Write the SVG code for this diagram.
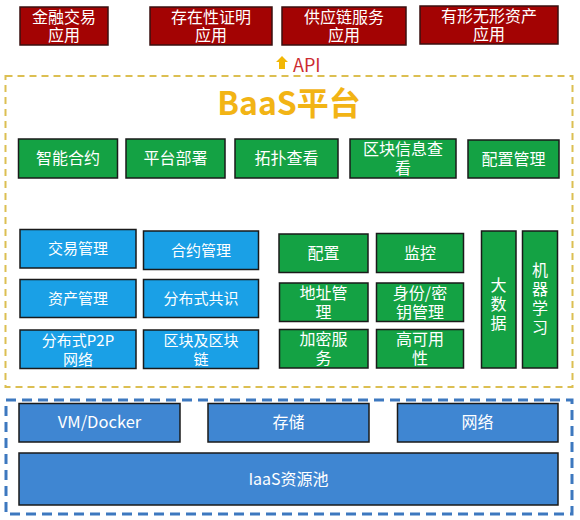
<svg xmlns="http://www.w3.org/2000/svg" width="580" height="520" viewBox="0 0 580 520">
<style>
  text { font-family: "Noto Sans CJK SC", "Noto Sans", sans-serif; fill: #ffffff; text-anchor: middle; }
  .red rect { fill: #a30303; stroke: #3a1010; stroke-width: 1.5; }
  .grn rect { fill: #14a244; stroke: #1a1a1a; stroke-width: 1.5; }
  .cyan rect { fill: #1aa0e6; stroke: #1a1a1a; stroke-width: 1.5; }
  .blu rect { fill: #3f86d2; stroke: #1a1a1a; stroke-width: 1.5; }
  .t16 { font-size: 16px; }
  .t15 { font-size: 15px; }
</style>
<rect width="580" height="520" fill="#ffffff"/>

<!-- frames -->
<rect x="5.5" y="76" width="567" height="311" fill="none" stroke="#dcbf52" stroke-width="2" stroke-dasharray="7 5"/>
<rect x="6" y="400" width="566" height="114" fill="none" stroke="#3d78bf" stroke-width="3" stroke-dasharray="10 6"/>

<!-- applications -->
<g id="app1" class="red"><rect x="20" y="7" width="88" height="38"/><text class="t16" x="64" y="23">金融交易<tspan x="64" dy="18">应用</tspan></text></g>
<g id="app2" class="red"><rect x="150" y="7" width="122" height="38"/><text class="t16" x="211" y="23">存在性证明<tspan x="211" dy="18">应用</tspan></text></g>
<g id="app3" class="red"><rect x="282" y="7" width="124" height="38"/><text class="t16" x="344" y="23">供应链服务<tspan x="344" dy="18">应用</tspan></text></g>
<g id="app4" class="red"><rect x="420" y="6" width="138" height="38"/><text class="t16" x="489" y="22">有形无形资产<tspan x="489" dy="18">应用</tspan></text></g>

<!-- API -->
<g id="connectors">
  <polygon points="282,56 288,62 285,62 285,69 279,69 279,62 276,62" fill="#f2b705"/>
</g>
<text x="293" y="72" style="font-size:18px;fill:#cc2a30;text-anchor:start">API</text>

<!-- BaaS title -->
<text x="289" y="115" style="font-size:32px;font-weight:bold;fill:#f2b415">BaaS平台</text>

<!-- top green row -->
<g id="g1" class="grn"><rect x="18.5" y="139" width="99" height="39"/><text class="t16" x="68" y="164">智能合约</text></g>
<g id="g2" class="grn"><rect x="126" y="139" width="99" height="39"/><text class="t16" x="175.5" y="164">平台部署</text></g>
<g id="g3" class="grn"><rect x="235" y="139" width="103" height="39"/><text class="t16" x="286.5" y="164">拓扑查看</text></g>
<g id="g4" class="grn"><rect x="350" y="139" width="106" height="39"/><text class="t16" x="403" y="155">区块信息查<tspan x="403" dy="19">看</tspan></text></g>
<g id="g5" class="grn"><rect x="468" y="140" width="91" height="38"/><text class="t16" x="513.5" y="165">配置管理</text></g>

<!-- left cyan block -->
<g id="c1" class="cyan"><rect x="20" y="229.5" width="116" height="38.5"/><text class="t15" x="78" y="254">交易管理</text></g>
<g id="c2" class="cyan"><rect x="143.5" y="231" width="115" height="38.5"/><text class="t15" x="201" y="256">合约管理</text></g>
<g id="c3" class="cyan"><rect x="20" y="279.5" width="116" height="38"/><text class="t15" x="78" y="304">资产管理</text></g>
<g id="c4" class="cyan"><rect x="143.5" y="279.5" width="115" height="38"/><text class="t15" x="201" y="304">分布式共识</text></g>
<g id="c5" class="cyan"><rect x="20" y="330" width="116" height="38.5"/><text class="t15" x="78" y="346">分布式P2P<tspan x="78" dy="19">网络</tspan></text></g>
<g id="c6" class="cyan"><rect x="143.5" y="330" width="115" height="38.5"/><text class="t15" x="201" y="346">区块及区块<tspan x="201" dy="19">链</tspan></text></g>

<!-- middle green block -->
<g id="m1" class="grn"><rect x="279" y="234" width="89" height="38.5"/><text class="t16" x="323.5" y="259">配置</text></g>
<g id="m2" class="grn"><rect x="376.5" y="233.5" width="87" height="39"/><text class="t16" x="420" y="259">监控</text></g>
<g id="m3" class="grn"><rect x="279.5" y="283" width="88.5" height="38.5"/><text class="t16" x="323.5" y="299">地址管<tspan x="323.5" dy="19">理</tspan></text></g>
<g id="m4" class="grn"><rect x="376.5" y="283" width="87" height="38.5"/><text class="t16" x="420" y="299">身份/密<tspan x="420" dy="19">钥管理</tspan></text></g>
<g id="m5" class="grn"><rect x="279.5" y="329.5" width="88.5" height="38.5"/><text class="t16" x="323.5" y="345">加密服<tspan x="323.5" dy="19">务</tspan></text></g>
<g id="m6" class="grn"><rect x="376.5" y="329.5" width="87" height="38.5"/><text class="t16" x="420" y="345">高可用<tspan x="420" dy="19">性</tspan></text></g>

<!-- right vertical green -->
<g id="v1" class="grn"><rect x="481.5" y="231" width="34.5" height="137"/><text class="t16" x="498.5" y="291">大<tspan x="498.5" dy="19">数</tspan><tspan x="498.5" dy="19">据</tspan></text></g>
<g id="v2" class="grn"><rect x="522.5" y="231" width="35" height="137"/><text class="t16" x="540" y="276">机<tspan x="540" dy="19">器</tspan><tspan x="540" dy="19">学</tspan><tspan x="540" dy="19">习</tspan></text></g>

<!-- IaaS -->
<g id="i1" class="blu"><rect x="19" y="403.5" width="161" height="38.5"/><text x="99.5" y="428" style="font-size:16.5px">VM/Docker</text></g>
<g id="i2" class="blu"><rect x="208" y="403.5" width="161" height="38.5"/><text class="t16" x="288.5" y="428">存储</text></g>
<g id="i3" class="blu"><rect x="397.5" y="403.5" width="160.5" height="38.5"/><text class="t16" x="477.5" y="428">网络</text></g>
<g id="i4" class="blu"><rect x="19" y="453" width="539" height="52"/><text class="t16" x="288.5" y="485">IaaS资源池</text></g>
</svg>
